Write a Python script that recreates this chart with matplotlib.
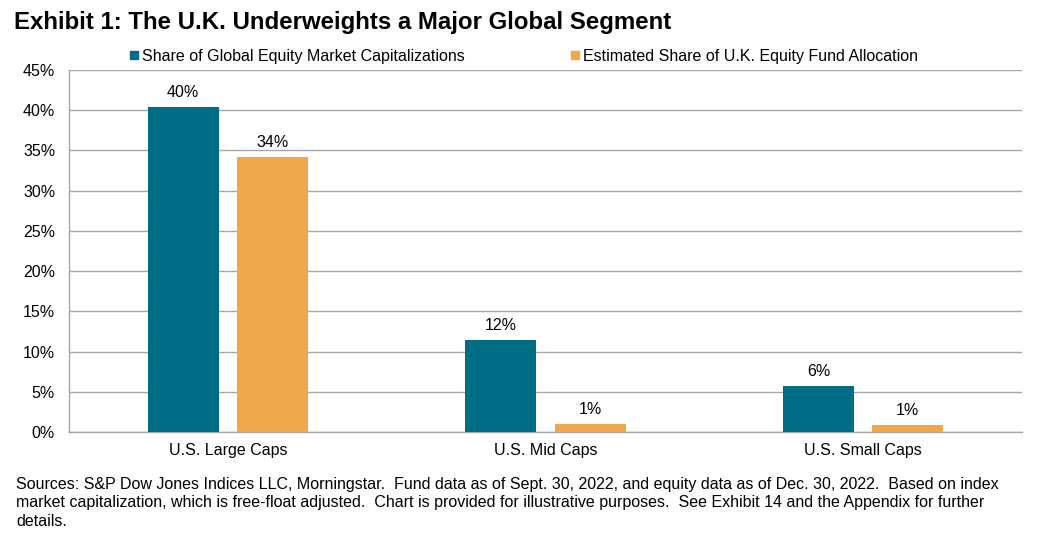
import matplotlib
matplotlib.use("Agg")
import matplotlib.pyplot as plt
import numpy as np
from matplotlib.lines import Line2D

plt.rcParams['font.family'] = ['Liberation Sans', 'DejaVu Sans']

categories = ["U.S. Large Caps", "U.S. Mid Caps", "U.S. Small Caps"]
series_names = ["Share of Global Equity Market Capitalizations",
                "Estimated Share of U.K. Equity Fund Allocation"]
global_share = [40.4, 11.4, 5.7]
uk_share = [34.2, 1.0, 0.9]
global_labels = ["40%", "12%", "6%"]
uk_labels = ["34%", "1%", "1%"]
yticks = [0, 5, 10, 15, 20, 25, 30, 35, 40, 45]

teal = "#006D87"
orange = "#F0A64A"
grid_c = "#A6A6A6"
fs = 11.5

fig = plt.figure(figsize=(10.39, 5.41), dpi=100)
ax = fig.add_axes([69/1039, 1-432/541, (1022-69)/1039, (432-70)/541])

x = np.arange(len(categories))
w = 0.223
off = 0.1405
b1 = ax.bar(x - off, global_share, w, color=teal, zorder=3)
b2 = ax.bar(x + off, uk_share, w, color=orange, zorder=3)
for rect, lab in zip(b1, global_labels):
    ax.annotate(lab, (rect.get_x()+rect.get_width()/2, rect.get_height()),
                xytext=(0, 5), textcoords="offset points", ha="center", va="bottom", fontsize=fs)
for rect, lab in zip(b2, uk_labels):
    ax.annotate(lab, (rect.get_x()+rect.get_width()/2, rect.get_height()),
                xytext=(0, 5), textcoords="offset points", ha="center", va="bottom", fontsize=fs)

ax.set_xlim(-0.5, 2.5)
ax.set_ylim(0, 45)
ax.set_yticks(yticks)
ax.set_yticklabels([f"{t}%" for t in yticks], fontsize=fs)
ax.set_xticks(x)
ax.set_xticklabels(categories, fontsize=fs)
ax.tick_params(axis='x', length=0, pad=8)
ax.tick_params(axis='y', length=0, pad=10)
ax.yaxis.grid(True, color=grid_c, linewidth=1, zorder=0)
for s in ["top", "right"]:
    ax.spines[s].set_visible(False)
for s in ["left", "bottom"]:
    ax.spines[s].set_color(grid_c)
    ax.spines[s].set_linewidth(1)

fig.text(14/1039, 1-22/541, "Exhibit 1: The U.K. Underweights a Major Global Segment",
         fontsize=17.3, fontweight="bold", va="center", ha="left")

handles = [Line2D([], [], marker='s', linestyle='none', color=teal, markersize=6),
           Line2D([], [], marker='s', linestyle='none', color=orange, markersize=6)]
fig.legend(handles, series_names, loc="center left", bbox_to_anchor=(118/1039, 1-56/541),
           ncol=2, frameon=False, fontsize=fs, handletextpad=0.0, columnspacing=6.4,
           handlelength=1.0, borderpad=0)

fig.text(16/1039, 1-503/541,
         "Sources: S&P Dow Jones Indices LLC, Morningstar.  Fund data as of Sept. 30, 2022, and equity data as of Dec. 30, 2022.  Based on index\n"
         "market capitalization, which is free-float adjusted.  Chart is provided for illustrative purposes.  See Exhibit 14 and the Appendix for further\n"
         "details.", fontsize=fs, va="center", ha="left", linespacing=1.25)

fig.savefig("out.png", dpi=100)
